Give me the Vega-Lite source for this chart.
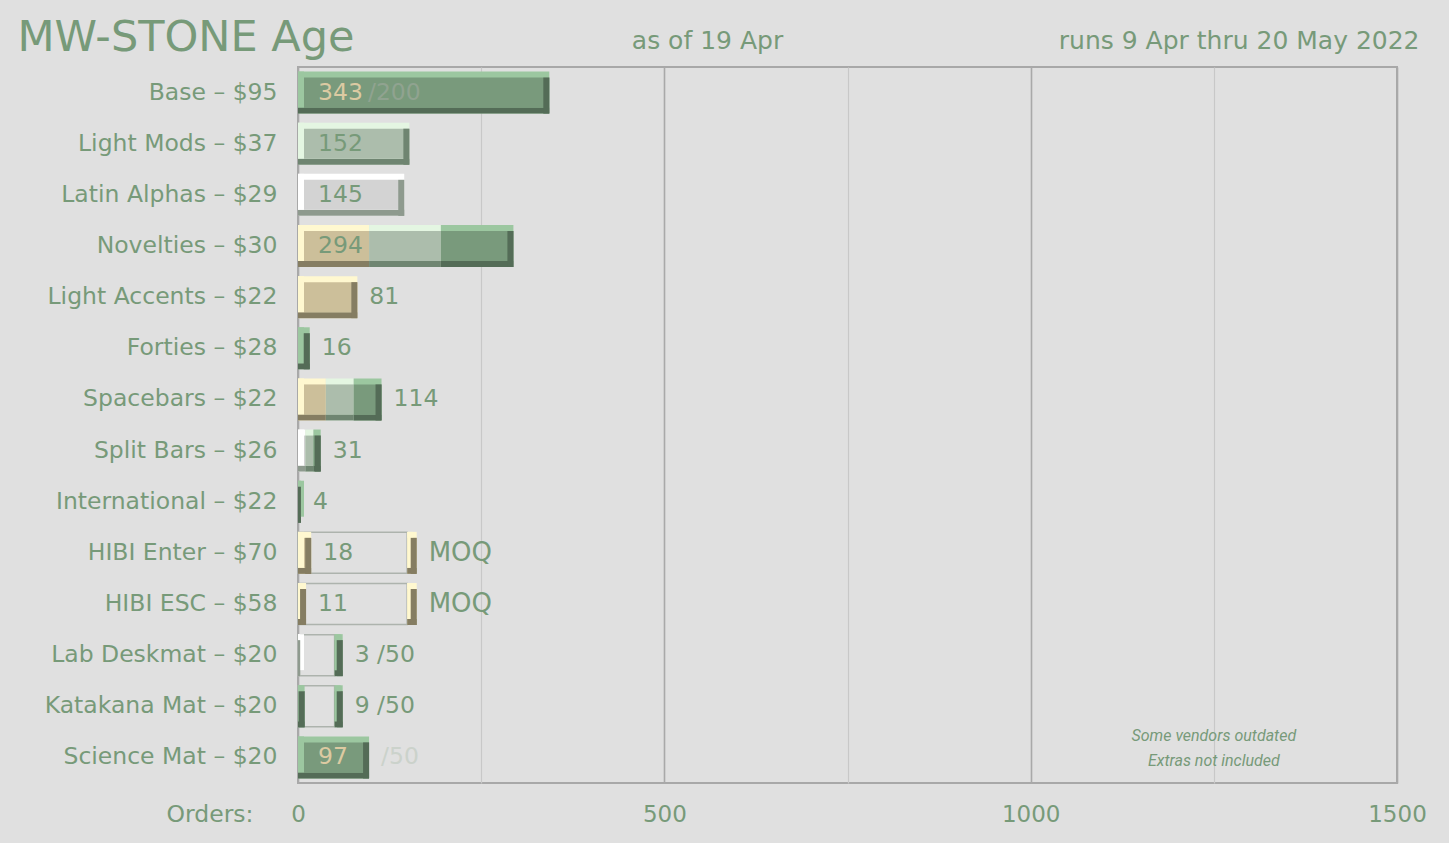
{
  "$schema": "https://vega.github.io/schema/vega-lite/v6.json",
  "width": 1099,
  "height": 716,
  "autosize": {"type": "none"},
  "padding": {"left": 298, "top": 67, "right": 52, "bottom": 60},
  "background": "#e0e0e0",
  "config": {
    "view": {"stroke": "#a8a8a8", "strokeWidth": 2},
    "font": "DejaVu Sans",
    "axis": {
      "labelFont": "DejaVu Sans",
      "titleFont": "DejaVu Sans",
      "labelColor": "#779a79",
      "titleColor": "#779a79",
      "titleFontWeight": "normal",
      "ticks": false,
      "tickSize": 0,
      "domain": false,
      "grid": false,
      "labelFontSize": 23,
      "titleFontSize": 23.5,
      "titleAngle": 0
    }
  },
  "datasets": {
    "segments": [
      {"cat": "Base – $95", "part": "orders", "kind": "dark", "start": 0, "end": 343},
      {"cat": "Light Mods – $37", "part": "orders", "kind": "light", "start": 0, "end": 152},
      {"cat": "Latin Alphas – $29", "part": "orders", "kind": "white", "start": 0, "end": 145},
      {"cat": "Novelties – $30", "part": "orders", "kind": "beige", "start": 0, "end": 97},
      {"cat": "Novelties – $30", "part": "orders", "kind": "light", "start": 97, "end": 195},
      {"cat": "Novelties – $30", "part": "orders", "kind": "dark", "start": 195, "end": 294},
      {"cat": "Light Accents – $22", "part": "orders", "kind": "beige", "start": 0, "end": 81},
      {"cat": "Forties – $28", "part": "orders", "kind": "dark", "start": 0, "end": 16},
      {"cat": "Spacebars – $22", "part": "orders", "kind": "beige", "start": 0, "end": 38},
      {"cat": "Spacebars – $22", "part": "orders", "kind": "light", "start": 38, "end": 76},
      {"cat": "Spacebars – $22", "part": "orders", "kind": "dark", "start": 76, "end": 114},
      {"cat": "Split Bars – $26", "part": "orders", "kind": "white", "start": 0, "end": 10},
      {"cat": "Split Bars – $26", "part": "orders", "kind": "light", "start": 10, "end": 21},
      {"cat": "Split Bars – $26", "part": "orders", "kind": "dark", "start": 21, "end": 31},
      {"cat": "International – $22", "part": "orders", "kind": "dark", "start": 0, "end": 4},
      {"cat": "HIBI Enter – $70", "part": "orders", "kind": "beige", "start": 0, "end": 18},
      {"cat": "HIBI Enter – $70", "part": "moq", "kind": "beige", "start": 149, "end": 162},
      {"cat": "HIBI ESC – $58", "part": "orders", "kind": "beige", "start": 0, "end": 11},
      {"cat": "HIBI ESC – $58", "part": "moq", "kind": "beige", "start": 149, "end": 162},
      {"cat": "Lab Deskmat – $20", "part": "orders", "kind": "white", "start": 0, "end": 3},
      {"cat": "Lab Deskmat – $20", "part": "moq", "kind": "dark", "start": 50, "end": 61},
      {"cat": "Katakana Mat – $20", "part": "orders", "kind": "dark", "start": 0, "end": 9},
      {"cat": "Katakana Mat – $20", "part": "moq", "kind": "dark", "start": 50, "end": 61},
      {"cat": "Science Mat – $20", "part": "orders", "kind": "dark", "start": 0, "end": 97}
    ],
    "targets": [
      {"cat": "HIBI Enter – $70", "start": 0, "end": 149},
      {"cat": "HIBI ESC – $58", "start": 0, "end": 149},
      {"cat": "Lab Deskmat – $20", "start": 0, "end": 50},
      {"cat": "Katakana Mat – $20", "start": 0, "end": 50}
    ],
    "labels": [
      {"cat": "Base – $95", "text": "343", "start": 0, "place": "in", "tone": "cream"},
      {"cat": "Base – $95", "text": "/200", "start": 0, "place": "in-after", "tone": "muted"},
      {"cat": "Light Mods – $37", "text": "152", "start": 0, "place": "in", "tone": "green"},
      {"cat": "Latin Alphas – $29", "text": "145", "start": 0, "place": "in", "tone": "green"},
      {"cat": "Novelties – $30", "text": "294", "start": 0, "place": "in", "tone": "green"},
      {"cat": "Light Accents – $22", "text": "81", "start": 81, "place": "out", "tone": "green"},
      {"cat": "Forties – $28", "text": "16", "start": 16, "place": "out", "tone": "green"},
      {"cat": "Spacebars – $22", "text": "114", "start": 114, "place": "out", "tone": "green"},
      {"cat": "Split Bars – $26", "text": "31", "start": 31, "place": "out", "tone": "green"},
      {"cat": "International – $22", "text": "4", "start": 4, "place": "out", "tone": "green"},
      {"cat": "HIBI Enter – $70", "text": "18", "start": 18, "place": "out", "tone": "green"},
      {"cat": "HIBI Enter – $70", "text": "MOQ", "start": 162, "place": "out", "tone": "green"},
      {"cat": "HIBI ESC – $58", "text": "11", "start": 11, "place": "out", "tone": "green"},
      {"cat": "HIBI ESC – $58", "text": "MOQ", "start": 162, "place": "out", "tone": "green"},
      {"cat": "Lab Deskmat – $20", "text": "3 /50", "start": 61, "place": "out", "tone": "green"},
      {"cat": "Katakana Mat – $20", "text": "9 /50", "start": 61, "place": "out", "tone": "green"},
      {"cat": "Science Mat – $20", "text": "97", "start": 0, "place": "in", "tone": "cream"},
      {"cat": "Science Mat – $20", "text": "/50", "start": 97, "place": "out", "tone": "faint"}
    ],
    "notes": [
      {"cat": "Science Mat – $20", "start": 1250, "text": "Some vendors outdated|Extras not included"}
    ]
  },
  "layer": [
    {
      "encoding": {
        "y": {
          "field": "cat",
          "type": "nominal",
          "title": "MW-STONE Age",
          "sort": ["Base – $95", "Light Mods – $37", "Latin Alphas – $29", "Novelties – $30", "Light Accents – $22", "Forties – $28", "Spacebars – $22", "Split Bars – $26", "International – $22", "HIBI Enter – $70", "HIBI ESC – $58", "Lab Deskmat – $20", "Katakana Mat – $20", "Science Mat – $20"],
          "scale": {"paddingInner": 0, "paddingOuter": 0},
          "axis": {
            "orient": "left",
            "labelPadding": 21,
            "labelFontSize": 23.5,
            "labelLimit": 400,
            "titleX": -281,
            "titleY": -17,
            "titleAlign": "left",
            "titleBaseline": "alphabetic",
            "titleFontSize": 43,
            "titleAngle": 0
          }
        }
      },
      "layer": [
        {
          "data": {"name": "targets"},
          "mark": {"type": "bar", "filled": false, "stroke": "#adb3ad", "strokeWidth": 1.5, "height": 41},
          "encoding": {
            "x": {
              "field": "start",
              "type": "quantitative",
              "title": "Orders:",
              "scale": {"domain": [0, 1500], "nice": false, "zero": true},
              "axis": {
                "orient": "bottom",
                "values": [0, 250, 500, 750, 1000, 1250, 1500],
                "format": "d",
                "grid": true,
                "gridColor": {"condition": {"test": "datum.value % 500 === 0", "value": "#a9a9a9"}, "value": "#c8c8c8"},
                "gridWidth": {"condition": {"test": "datum.value % 500 === 0", "value": 1.6}, "value": 1.2},
                "labelExpr": "datum.value % 500 === 0 ? datum.label : ''",
                "labelPadding": 38,
                "labelBaseline": "alphabetic",
                "labelFlush": false,
                "labelOverlap": false,
                "labelFontSize": 23,
                "titleX": -45,
                "titleY": 38,
                "titleAlign": "right",
                "titleBaseline": "alphabetic",
                "titleFontSize": 23.5
              }
            },
            "x2": {"field": "end"}
          }
        },
        {
          "data": {"name": "segments"},
          "transform": [
            {"joinaggregate": [{"op": "min", "field": "start", "as": "barStart"}, {"op": "max", "field": "end", "as": "barEnd"}], "groupby": ["cat", "part"]}
          ],
          "layer": [
            {
              "mark": {"type": "bar", "height": 42},
              "encoding": {
                "x": {"field": "start", "type": "quantitative", "title": "Orders:"},
                "x2": {"field": "end"},
                "color": {"condition": [
                  {"test": "datum.kind === 'dark'", "value": "#9cc7a0"},
                  {"test": "datum.kind === 'light'", "value": "#e4f6e2"},
                  {"test": "datum.kind === 'white'", "value": "#ffffff"}
                ], "value": "#fff8d0"}
              }
            },
            {
              "mark": {"type": "bar", "height": 6, "yOffset": 18},
              "encoding": {
                "x": {"field": "start", "type": "quantitative", "title": "Orders:"},
                "x2": {"field": "end"},
                "color": {"condition": [
                  {"test": "datum.kind === 'dark'", "value": "#546c57"},
                  {"test": "datum.kind === 'light'", "value": "#6f8571"},
                  {"test": "datum.kind === 'white'", "value": "#8e9a8e"}
                ], "value": "#857d62"}
              }
            },
            {
              "mark": {"type": "bar", "height": 30},
              "encoding": {
                "x": {"field": "start", "type": "quantitative", "title": "Orders:"},
                "x2": {"field": "end"},
                "color": {"condition": [
                  {"test": "datum.kind === 'dark'", "value": "#799a7c"},
                  {"test": "datum.kind === 'light'", "value": "#acbdac"},
                  {"test": "datum.kind === 'white'", "value": "#d3d3d3"}
                ], "value": "#ccbf9a"}
              }
            },
            {
              "transform": [{"filter": "datum.start === datum.barStart"}],
              "mark": {"type": "bar", "height": 36, "yOffset": -3, "x2Offset": 6, "clip": true},
              "encoding": {
                "x": {"field": "start", "type": "quantitative", "title": "Orders:"},
                "x2": {"field": "start"},
                "color": {"condition": [
                  {"test": "datum.kind === 'dark'", "value": "#9cc7a0"},
                  {"test": "datum.kind === 'light'", "value": "#e4f6e2"},
                  {"test": "datum.kind === 'white'", "value": "#ffffff"}
                ], "value": "#fff8d0"}
              }
            },
            {
              "transform": [{"filter": "datum.end === datum.barEnd"}],
              "mark": {"type": "bar", "height": 36, "yOffset": 3, "xOffset": -6, "clip": true},
              "encoding": {
                "x": {"field": "end", "type": "quantitative", "title": "Orders:"},
                "x2": {"field": "end"},
                "color": {"condition": [
                  {"test": "datum.kind === 'dark'", "value": "#546c57"},
                  {"test": "datum.kind === 'light'", "value": "#6f8571"},
                  {"test": "datum.kind === 'white'", "value": "#8e9a8e"}
                ], "value": "#857d62"}
              }
            }
          ]
        },
        {
          "data": {"name": "labels"},
          "transform": [{"filter": "datum.place === 'in'"}],
          "mark": {"type": "text", "align": "left", "baseline": "middle", "dx": 20, "fontSize": 23.5, "font": "DejaVu Sans"},
          "encoding": {
            "x": {"field": "start", "type": "quantitative", "title": "Orders:"},
            "text": {"field": "text"},
            "color": {"condition": [{"test": "datum.tone === 'cream'", "value": "#dccaa2"}], "value": "#779a79"}
          }
        },
        {
          "data": {"name": "labels"},
          "transform": [{"filter": "datum.place === 'in-after'"}],
          "mark": {"type": "text", "align": "left", "baseline": "middle", "dx": 70, "fontSize": 23.5, "font": "DejaVu Sans", "color": "#90a390"},
          "encoding": {
            "x": {"field": "start", "type": "quantitative", "title": "Orders:"},
            "text": {"field": "text"}
          }
        },
        {
          "data": {"name": "labels"},
          "transform": [{"filter": "datum.place === 'out'"}],
          "mark": {"type": "text", "align": "left", "baseline": "middle", "dx": 12, "font": "DejaVu Sans"},
          "encoding": {
            "x": {"field": "start", "type": "quantitative", "title": "Orders:"},
            "text": {"field": "text"},
            "size": {"condition": {"test": "datum.text === 'MOQ'", "value": 26}, "value": 23.5},
            "color": {"condition": [{"test": "datum.tone === 'faint'", "value": "#cbd2cb"}], "value": "#779a79"}
          }
        },
        {
          "data": {"name": "notes"},
          "mark": {"type": "text", "align": "center", "baseline": "middle", "lineBreak": "|", "dy": -21, "font": "Roboto", "fontStyle": "italic", "fontSize": 16, "lineHeight": 25, "color": "#779a79"},
          "encoding": {
            "x": {"field": "start", "type": "quantitative", "title": "Orders:"},
            "text": {"field": "text"}
          }
        }
      ]
    },
    {
      "data": {"name": "segments"},
      "mark": {"type": "point", "opacity": 0},
      "encoding": {
        "x": {
          "field": "end",
          "type": "quantitative",
          "title": "as of 19 Apr",
          "scale": {"domain": [0, 1500], "nice": false, "zero": true},
          "axis": {"orient": "top", "labels": false, "grid": false, "titleX": 409, "titleY": -19, "titleAlign": "center", "titleBaseline": "alphabetic", "titleFontSize": 25}
        },
        "y": {
          "field": "cat",
          "type": "nominal",
          "title": "runs 9 Apr thru 20 May 2022",
          "sort": ["Base – $95", "Light Mods – $37", "Latin Alphas – $29", "Novelties – $30", "Light Accents – $22", "Forties – $28", "Spacebars – $22", "Split Bars – $26", "International – $22", "HIBI Enter – $70", "HIBI ESC – $58", "Lab Deskmat – $20", "Katakana Mat – $20", "Science Mat – $20"],
          "axis": {"orient": "right", "labels": false, "grid": false, "titleX": 22, "titleY": -19, "titleAlign": "right", "titleBaseline": "alphabetic", "titleFontSize": 25, "titleAngle": 0}
        }
      }
    }
  ],
  "resolve": {"axis": {"x": "independent", "y": "independent"}}
}
